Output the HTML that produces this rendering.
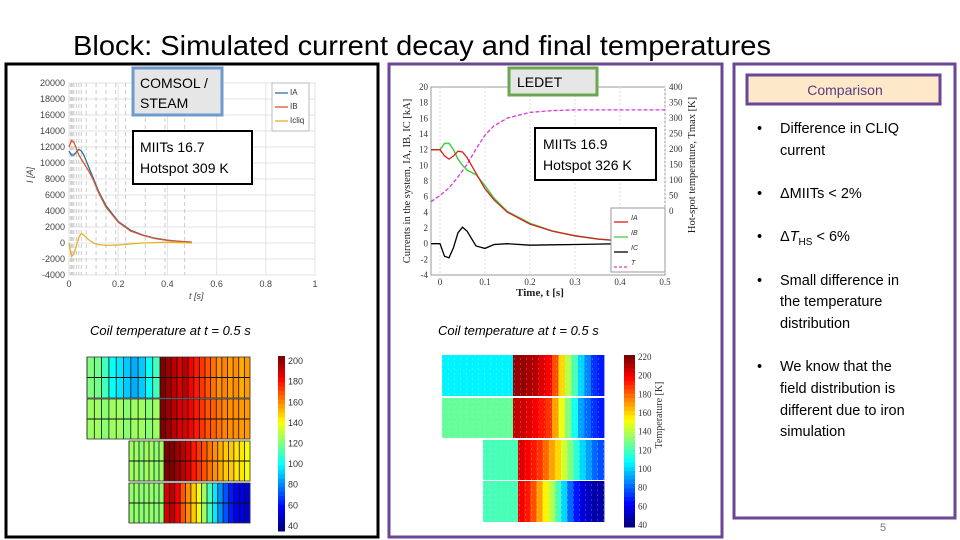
<!DOCTYPE html>
<html><head><meta charset="utf-8"><style>
body{margin:0;background:#fff;}
svg{display:block;font-family:"Liberation Sans",sans-serif;}
</style></head><body>
<svg id="s" width="960" height="540" viewBox="0 0 960 540" xmlns="http://www.w3.org/2000/svg">
<text x="73" y="55" font-size="28" textLength="698" lengthAdjust="spacingAndGlyphs" fill="#000">Block: Simulated current decay and final temperatures</text>
<rect x="6" y="64" width="372" height="473" fill="none" stroke="#000" stroke-width="3"/>
<rect x="389" y="64" width="333" height="473" fill="none" stroke="#6a4697" stroke-width="3"/>
<rect x="734" y="64" width="221" height="454" fill="none" stroke="#6a4697" stroke-width="3"/>
<g id="left"></g><g id="right"></g><g id="hl"></g><g id="hr"></g>
<rect x="133" y="68" width="89" height="47" fill="#e6e6e6" stroke="#6d9bcb" stroke-width="3"/>
<text x="140" y="88" font-size="14">COMSOL /</text>
<text x="140" y="108" font-size="14">STEAM</text>
<rect x="133" y="131" width="119" height="53" fill="#fff" stroke="#000" stroke-width="2"/>
<text x="140" y="152" font-size="14">MIITs 16.7</text>
<text x="140" y="173" font-size="14">Hotspot 309 K</text>
<rect x="509" y="68" width="88" height="27" fill="#e6e6e6" stroke="#6aa84f" stroke-width="3"/>
<text x="517" y="87" font-size="14">LEDET</text>
<rect x="535" y="128" width="121" height="52" fill="#fff" stroke="#000" stroke-width="2"/>
<text x="543" y="149" font-size="14">MIITs 16.9</text>
<text x="543" y="170" font-size="14">Hotspot 326 K</text>
<text x="90" y="335" font-size="13" font-style="italic">Coil temperature at t = 0.5 s</text>
<text x="438" y="335" font-size="13" font-style="italic">Coil temperature at t = 0.5 s</text>
<rect x="747" y="75" width="193" height="29" fill="#fde9c9" stroke="#6a4697" stroke-width="3"/>
<text x="845" y="95" font-size="14" fill="#5a3d80" text-anchor="middle">Comparison</text>
<g font-size="14.5" fill="#000">
<text x="757" y="133">•</text><text x="780" y="133">Difference in CLIQ</text><text x="780" y="155">current</text>
<text x="757" y="198">•</text><text x="780" y="198">ΔMIITs &lt; 2%</text>
<text x="757" y="241">•</text><text x="780" y="241">Δ<tspan font-style="italic">T</tspan><tspan font-size="10" dy="4">HS</tspan><tspan dy="-4"> &lt; 6%</tspan></text>
<text x="757" y="285">•</text><text x="780" y="285">Small difference in</text><text x="780" y="306">the temperature</text><text x="780" y="328">distribution</text>
<text x="757" y="371">•</text><text x="780" y="371">We know that the</text><text x="780" y="393">field distribution is</text><text x="780" y="415">different due to iron</text><text x="780" y="436">simulation</text>
</g>
<text x="880" y="531" font-size="11" fill="#777">5</text>
</svg>
<script>
// Left chart (COMSOL) data
const tL=[0,0.01,0.02,0.03,0.04,0.05,0.06,0.08,0.1,0.12,0.15,0.2,0.25,0.3,0.35,0.4,0.45,0.5];
const iAL=[11500,11000,11000,11400,11700,11500,11000,9500,8000,6500,4700,2700,1600,1000,600,350,200,100];
const iBL=[12000,12800,12600,11800,11000,10500,10000,9000,7800,6300,4500,2600,1500,950,550,330,200,100];
const iCL=[0,-1700,-1400,-300,700,1200,1000,400,0,-200,-300,-250,-100,0,50,100,50,0];
const yTicksL=[20000,18000,16000,14000,12000,10000,8000,6000,4000,2000,0,-2000,-4000];
const xTicksL=[0,0.2,0.4,0.6,0.8,1];
// Right chart (LEDET) data
const tR=[-0.02,0,0.01,0.02,0.03,0.04,0.05,0.06,0.08,0.1,0.12,0.15,0.2,0.25,0.3,0.35,0.4,0.45,0.5];
const iAR=[12,12,11.2,10.8,11.2,11.8,11.7,11,9,7,5.6,4,2.5,1.6,1,0.6,0.35,0.2,0.1];
const iBR=[12,12,12.8,12.8,12,10.8,10,9.4,8.8,7.4,5.8,4.1,2.6,1.6,1,0.6,0.35,0.2,0.1];
const iCR=[0,0,-1.6,-1.8,-0.5,1.4,2.1,1.6,-0.3,-0.6,-0.1,0,-0.2,-0.15,-0.1,-0.05,0,0,0];
const tHS=[30,50,62,75,92,110,130,150,200,245,275,300,318,324,326,326,326,326,326];
const yTicksR=[20,18,16,14,12,10,8,6,4,2,0,-2,-4];
const y2TicksR=[400,350,300,250,200,150,100,50,0];
const xTicksR=[0,0.1,0.2,0.3,0.4,0.5];
// Heatmap data (temperature per column)
const hmL=[
 {x0:87,x1:160,x2:250,y0:357,y1:398,a:[120,118,110,100,95,90,85,90,100,110],b:[205,200,195,190,195,185,180,175,170,165,160,162,158,160,155,158]},
 {x0:87,x1:160,x2:250,y0:399,y1:439,a:[125,125,122,125,125,122,125,125,122,125],b:[205,200,195,190,190,185,180,175,170,168,165,162,160,160,158,158]},
 {x0:129,x1:164,x2:250,y0:441,y1:481,a:[125,125,122,125,125,122,125],b:[205,205,200,195,190,180,175,170,165,160,155,150,150,145,145,140]},
 {x0:129,x1:164,x2:250,y0:483,y1:523,a:[123,123,122,123,123,122,123],b:[190,195,185,170,160,150,140,125,110,95,80,70,60,55,50,50]}];
const hmR=[
 {x0:442,x1:513,x2:604,y0:355,y1:396,a:[105,105,105,105,105,105,105,105,105,105],b:[218,218,215,212,205,200,185,160,140,120,100,85,70,65]},
 {x0:442,x1:513,x2:604,y0:398,y1:438,a:[125,125,125,125,125,125,125,125,125,125],b:[210,208,205,200,195,190,170,150,130,110,90,80,70,65]},
 {x0:483,x1:518,x2:604,y0:440,y1:480,a:[120,120,120,120,120,120,120],b:[205,200,195,190,180,170,160,145,130,115,100,90,80,75]},
 {x0:483,x1:518,x2:604,y0:481,y1:522,a:[120,120,120,120,120,120,120],b:[200,195,185,170,155,140,120,100,80,65,55,50,45,45]}];
const cbTicksL=[200,180,160,140,120,100,80,60,40];
const cbTicksR=[220,200,180,160,140,120,100,80,60,40];

const NS="http://www.w3.org/2000/svg";
function mk(p,tag,at){const e=document.createElementNS(NS,tag);for(const k in at)e.setAttribute(k,at[k]);p.appendChild(e);return e;}
function jet(v){v=Math.max(0,Math.min(1,v));const f=x=>Math.round(255*Math.max(0,Math.min(1,1.5-Math.abs(4*v-x))));return `rgb(${f(3)},${f(2)},${f(1)})`;}

// Left chart
const gL=document.getElementById('left');
const xL=t=>69+t*246, yL=v=>83+(20000-v)*192/24000;
mk(gL,'rect',{x:69,y:83,width:246,height:192,fill:'#fff',stroke:'#bbb'});
yTicksL.forEach(v=>{const l=mk(gL,'line',{x1:69,x2:315,y1:yL(v),y2:yL(v),stroke:'#e3e3e3'});
 const t=mk(gL,'text',{x:65,y:yL(v)+3,'font-size':9,fill:'#444','text-anchor':'end'});t.textContent=v;});
xTicksL.forEach(v=>{mk(gL,'line',{x1:xL(v),x2:xL(v),y1:83,y2:275,stroke:'#e3e3e3'});
 const t=mk(gL,'text',{x:xL(v),y:287,'font-size':9,fill:'#444','text-anchor':'middle'});t.textContent=v;});
[0.005,0.01,0.015,0.02,0.03,0.04,0.05,0.07,0.11,0.15,0.19,0.23,0.31,0.39,0.47].forEach(v=>mk(gL,'line',{x1:xL(v),x2:xL(v),y1:83,y2:275,stroke:'#ccc','stroke-dasharray':'4,3'}));
function path(g,xs,ys,fx,fy,col,w,dash,name){let d=xs.map((x,i)=>(i?'L':'M')+fx(x).toFixed(1)+','+fy(ys[i]).toFixed(1)).join('');const p=mk(g,'path',{d,fill:'none',stroke:col,'stroke-width':w});if(dash)p.setAttribute('stroke-dasharray',dash);}
path(gL,tL,iAL,xL,yL,'#2f6ea6',1.3,null,'series-ia');
path(gL,tL,iBL,xL,yL,'#d4592a',1.3,null,'series-ib');
path(gL,tL,iCL,xL,yL,'#e6b12a',1.3,null,'series-icliq');
let t1=mk(gL,'text',{x:189,y:299,'font-size':9,'font-style':'italic',fill:'#444'});t1.textContent='t [s]';
t1=mk(gL,'text',{x:0,y:0,'font-size':9,'font-style':'italic',fill:'#444',transform:'translate(33,183) rotate(-90)'});t1.textContent='I [A]';
mk(gL,'rect',{x:272,y:83,width:37,height:48,fill:'#fff',stroke:'#bbb'});
[['#2f6ea6','A'],['#d4592a','B'],['#e6b12a','cliq']].forEach((c,i)=>{const y=93+i*14;mk(gL,'line',{x1:275,x2:288,y1:y,y2:y,stroke:c[0],'stroke-width':1.3});const t=mk(gL,'text',{x:290,y:y+2,'font-size':8,fill:'#333'});t.textContent='I'+c[1];});

// Right chart
const gR=document.getElementById('right');
const xR=t=>440+t*450, yR=v=>87+(20-v)*188/24, y2R=v=>211-v*124/400;
mk(gR,'rect',{x:431,y:87,width:234,height:188,fill:'#fff',stroke:'#999'});
yTicksR.forEach(v=>{const t=mk(gR,'text',{x:428,y:yR(v)+3,'font-size':9,fill:'#333','text-anchor':'end','font-family':'Liberation Serif'});t.textContent=v;});
y2TicksR.forEach(v=>{const t=mk(gR,'text',{x:669,y:y2R(v)+3,'font-size':9,fill:'#333','font-family':'Liberation Serif'});t.textContent=v;});
xTicksR.forEach(v=>{mk(gR,'line',{x1:xR(v),x2:xR(v),y1:87,y2:275,stroke:'#ddd','stroke-dasharray':'2,2'});const t=mk(gR,'text',{x:xR(v),y:285,'font-size':9,fill:'#333','text-anchor':'middle','font-family':'Liberation Serif'});t.textContent=v;});
path(gR,tR,tHS,xR,y2R,'#d63ad6',1.3,'4,2','series-thotspot');
path(gR,tR,iBR,xR,yR,'#3fd13f',1.5,null,'series-ib');
path(gR,tR,iAR,xR,yR,'#d81e1e',1.3,null,'series-ia');
path(gR,tR,iCR,xR,yR,'#000',1.3,null,'series-ic');
t1=mk(gR,'text',{x:540,y:296,'font-size':11,'font-family':'Liberation Serif','text-anchor':'middle','font-weight':'bold',fill:'#222'});t1.textContent='Time, t [s]';
t1=mk(gR,'text',{x:0,y:0,'font-size':10.5,'font-family':'Liberation Serif','text-anchor':'middle',fill:'#222',transform:'translate(410,181) rotate(-90)'});t1.textContent='Currents in the system, IA, IB, IC [kA]';
t1=mk(gR,'text',{x:0,y:0,'font-size':10.5,'font-family':'Liberation Serif','text-anchor':'middle',fill:'#222',transform:'translate(695,165) rotate(-90)'});t1.textContent='Hot-spot temperature, Tmax [K]';
mk(gR,'rect',{x:611,y:208,width:54,height:64,fill:'#fff',stroke:'#999'});
[['#d81e1e','IA',0],['#3fd13f','IB',0],['#000','IC',0],['#d63ad6','T',1]].forEach((c,i)=>{const y=222+i*15;const l=mk(gR,'line',{x1:614,x2:628,y1:y,y2:y,stroke:c[0],'stroke-width':1.3});if(c[2])l.setAttribute('stroke-dasharray','3,2');const t=mk(gR,'text',{x:631,y:y-2,'font-size':7,fill:'#333','font-style':'italic'});t.textContent=c[1];});

// Heatmaps
function heat(g,blocks,lo,hi,lines,cb,ticks){
 blocks.forEach(b=>{
  [[b.a,b.x0,b.x1],[b.b,b.x1,b.x2]].forEach(([arr,xa,xb])=>{const w=(xb-xa)/arr.length;
   arr.forEach((v,i)=>{const r=mk(g,'rect',{x:xa+i*w,y:b.y0,width:w+0.4,height:b.y1-b.y0,fill:jet((v-lo)/(hi-lo))});
    if(lines)mk(g,'line',{x1:xa+i*w,x2:xa+i*w,y1:b.y0,y2:b.y1,stroke:'#111','stroke-width':0.8});});});
  if(lines){mk(g,'line',{x1:b.x0,x2:b.x2,y1:(b.y0+b.y1)/2,y2:(b.y0+b.y1)/2,stroke:'#111','stroke-width':1});mk(g,'rect',{x:b.x0,y:b.y0,width:b.x2-b.x0,height:b.y1-b.y0,fill:'none',stroke:'#333','stroke-width':0.8});}
  else{for(let y=b.y0+4;y<b.y1;y+=5)mk(g,'line',{x1:b.x0,x2:b.x2,y1:y,y2:y,stroke:'#fff','stroke-width':0.6,'stroke-dasharray':'1,5','opacity':0.8});}
 });
 const n=40;for(let i=0;i<n;i++){mk(g,'rect',{x:cb.x,y:cb.y0+(cb.y1-cb.y0)*i/n,width:cb.w,height:(cb.y1-cb.y0)/n+0.5,fill:jet(1-i/(n-1))});}
 ticks.forEach(v=>{const y=cb.y1-(v-lo)/(hi-lo)*(cb.y1-cb.y0);const t=mk(g,'text',{x:cb.x+cb.w+3,y:y+3,'font-size':9,fill:'#333'});if(!lines)t.setAttribute('font-family','Liberation Serif');t.textContent=v;});
}
heat(document.getElementById('hl'),hmL,35,205,true,{x:278,w:7,y0:356,y1:531},cbTicksL);
heat(document.getElementById('hr'),hmR,38,222,false,{x:624,w:11,y0:355,y1:527},cbTicksR);
t1=mk(document.getElementById('hr'),'text',{x:0,y:0,'font-size':10,'font-family':'Liberation Serif','text-anchor':'middle',fill:'#333',transform:'translate(662,415) rotate(-90)'});t1.textContent='Temperature [K]';
</script>
</body></html>
